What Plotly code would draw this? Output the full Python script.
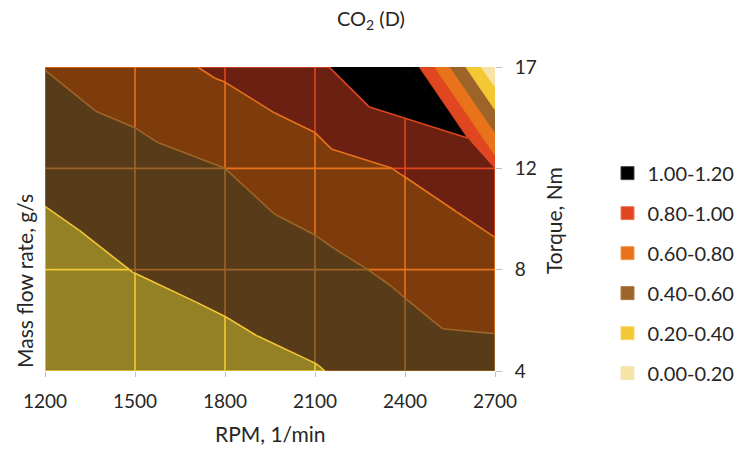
import plotly.graph_objects as go

# Engine speed categories and torque categories (evenly spaced category axes)
rpm = [1200, 1500, 1800, 2100, 2400, 2700]
torque_labels = ["4", "8", "12", "17"]

# CO2 mass flow rate, g/s - one list per torque level, one value per RPM
flow_4nm = [0.22, 0.26, 0.323, 0.388, 0.497, 0.516]
flow_8nm = [0.325, 0.405, 0.466, 0.543, 0.64, 0.744]
flow_12nm = [0.445, 0.52, 0.60, 0.71, 0.815, 0.92]
flow_17nm = [0.605, 0.72, 0.835, 0.965, 1.19, 0.03]

# Contour bands
band_limits = [0.0, 0.2, 0.4, 0.6, 0.8, 1.0, 1.2]
band_names = ["0.00-0.20", "0.20-0.40", "0.40-0.60", "0.60-0.80", "0.80-1.00", "1.00-1.20"]

# Band colours: full colour for faces turned to the light, darker tint for the rest
lit_colors = ["#f7e3a6", "#f2c935", "#9c6428", "#e8731a", "#e0461f", "#000000"]
shaded_colors = ["#9a8c62", "#958125", "#583b19", "#7e3c0c", "#6c2012", "#000000"]
legend_edge = ["#f3e6bd", "#f5d768", "#b07a42", "#ef9a55", "#ea7a5c", "#404040"]

FONT = "Lato, Carlito, 'Open Sans', sans-serif"
TEXT = "#262626"

grid = [flow_4nm, flow_8nm, flow_12nm, flow_17nm]  # grid[j][i]
nx, ny = len(rpm), len(grid)


def node(i, j):
    return (rpm[i], j, grid[j][i])


def band_of(z):
    for k in range(len(band_names)):
        if band_limits[k] <= z < band_limits[k + 1]:
            return k
    return len(band_names) - 1


# Surface triangulation: each cell is split along the diagonal through its highest corner
triangles = []
for j in range(ny - 1):
    for i in range(nx - 1):
        bl, br, tl, tr = node(i, j), node(i + 1, j), node(i, j + 1), node(i + 1, j + 1)
        peak = max((bl, br, tl, tr), key=lambda p: p[2])
        if peak in (tl, br):
            triangles += [(tl, tr, br), (tl, bl, br)]
        else:
            triangles += [(bl, tl, tr), (bl, br, tr)]


def lerp(p, q, level):
    t = (level - p[2]) / (q[2] - p[2])
    return (p[0] + t * (q[0] - p[0]), p[1] + t * (q[1] - p[1]), level)


def clip(poly, level, keep_above):
    out = []
    n = len(poly)
    for k in range(n):
        p, q = poly[k], poly[(k + 1) % n]
        pin = p[2] >= level if keep_above else p[2] <= level
        qin = q[2] >= level if keep_above else q[2] <= level
        if pin:
            out.append(p)
        if pin != qin:
            out.append(lerp(p, q, level))
    return out


def faces_light(tri):
    # lit when the face drops towards higher RPM
    (x0, y0, z0), (x1, y1, z1), (x2, y2, z2) = tri
    ax, ay, az = (x1 - x0) / 300.0, y1 - y0, z1 - z0
    bx, by, bz = (x2 - x0) / 300.0, y2 - y0, z2 - z0
    n_x = ay * bz - az * by
    n_z = ax * by - ay * bx
    return (-n_x / n_z) < 0


fig = go.Figure()

# Filled bands, triangle by triangle
fills = {}
for tri in triangles:
    lit = faces_light(tri)
    for k in range(len(band_names)):
        poly = clip(clip(list(tri), band_limits[k], True), band_limits[k + 1], False)
        if len(poly) < 3:
            continue
        xs, ys = fills.setdefault((k, lit), ([], []))
        xs += [p[0] for p in poly] + [poly[0][0], None]
        ys += [p[1] for p in poly] + [poly[0][1], None]

for (k, lit), (xs, ys) in sorted(fills.items()):
    col = lit_colors[k] if lit else shaded_colors[k]
    fig.add_trace(go.Scatter(
        x=xs, y=ys, mode="lines", fill="toself", fillcolor=col,
        line=dict(color=col, width=0.8), hoverinfo="skip", showlegend=False))

# Mesh lines, coloured by the band they run through
levels = band_limits[1:-1]
edges = []
for j in range(ny):
    for i in range(nx - 1):
        edges.append((node(i, j), node(i + 1, j)))
for i in range(nx):
    for j in range(ny - 1):
        edges.append((node(i, j), node(i, j + 1)))

mesh = {}
for p, q in edges:
    ts = [0.0, 1.0]
    if q[2] != p[2]:
        ts += [(L - p[2]) / (q[2] - p[2]) for L in levels]
    ts = sorted(t for t in ts if 0.0 <= t <= 1.0)
    for a, b in zip(ts[:-1], ts[1:]):
        if b - a < 1e-9:
            continue
        zm = p[2] + 0.5 * (a + b) * (q[2] - p[2])
        xs, ys = mesh.setdefault(band_of(zm), ([], []))
        xs += [p[0] + a * (q[0] - p[0]), p[0] + b * (q[0] - p[0]), None]
        ys += [p[1] + a * (q[1] - p[1]), p[1] + b * (q[1] - p[1]), None]

for k, (xs, ys) in sorted(mesh.items()):
    fig.add_trace(go.Scatter(
        x=xs, y=ys, mode="lines", line=dict(color=lit_colors[k], width=1.6),
        hoverinfo="skip", showlegend=False))

# Contour lines between bands
contours = {}
for tri in triangles:
    for k, L in enumerate(levels):
        pts = []
        for a, b in ((0, 1), (1, 2), (2, 0)):
            p, q = tri[a], tri[b]
            if (p[2] >= L) != (q[2] >= L):
                pts.append(lerp(p, q, L))
        if len(pts) == 2:
            xs, ys = contours.setdefault(k, ([], []))
            xs += [pts[0][0], pts[1][0], None]
            ys += [pts[0][1], pts[1][1], None]

for k, (xs, ys) in sorted(contours.items()):
    fig.add_trace(go.Scatter(
        x=xs, y=ys, mode="lines", line=dict(color=lit_colors[k], width=1.6),
        hoverinfo="skip", showlegend=False))

# Legend entries, highest band first
for k in reversed(range(len(band_names))):
    fig.add_trace(go.Scatter(
        x=[None], y=[None], mode="markers", name=band_names[k], legendgroup=band_names[k],
        marker=dict(symbol="square", size=13, color=lit_colors[k],
                    line=dict(color=legend_edge[k], width=1))))


def label(text, x, y, angle=0, size=21):
    return dict(text=text, x=x, y=y, xref="paper", yref="paper", xanchor="center",
                yanchor="middle", textangle=angle, showarrow=False, font=dict(size=size))


fig.update_layout(
    width=751, height=452,
    margin=dict(l=45, r=251, t=67, b=81),
    paper_bgcolor="white", plot_bgcolor="white",
    font=dict(family=FONT, size=19, color=TEXT),
    showlegend=True,
    legend=dict(x=1.25, y=0.715, xanchor="left", yanchor="top", tracegroupgap=11,
                bgcolor="rgba(0,0,0,0)", font=dict(size=20, color=TEXT)),
    xaxis=dict(range=[1200, 2700], tickvals=rpm, ticks="outside", ticklen=5,
               tickcolor="#bfbfbf", showgrid=False, zeroline=False, showline=False,
               ticklabelstandoff=8, fixedrange=True),
    yaxis=dict(range=[0, 3], tickvals=[0, 1, 2, 3], ticktext=torque_labels, side="right",
               ticks="outside", ticklen=6, tickcolor="#bfbfbf", showgrid=False,
               zeroline=False, showline=False, ticklabelstandoff=9, fixedrange=True),
    annotations=[
        label("CO<sub>2</sub> (D)", 0.725, 1.155, size=20),
        label("RPM, 1/min", 0.501, -0.205),
        label("Mass flow rate, g/s", -0.044, 0.297, -90),
        label("Torque, Nm", 1.130, 0.495, -90),
    ],
)

fig.write_html("out.html")
